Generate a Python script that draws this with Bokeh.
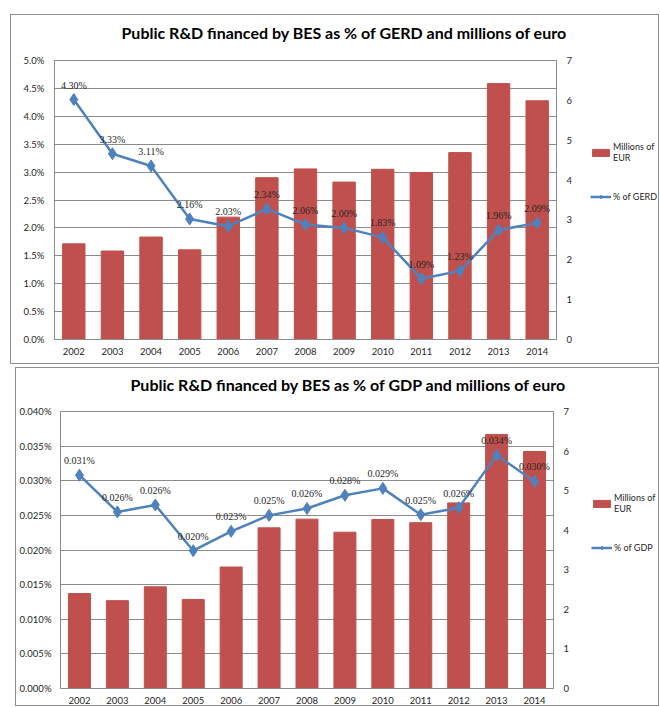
from bokeh.plotting import figure
from bokeh.models import (FactorRange, Range1d, LinearAxis, FixedTicker, PrintfTickFormatter,
                          ColumnDataSource, LabelSet, Legend, LegendItem, Spacer, Title)
from bokeh.layouts import column, row
from bokeh.embed import file_html
from bokeh.resources import INLINE

years = ["2002", "2003", "2004", "2005", "2006", "2007", "2008",
         "2009", "2010", "2011", "2012", "2013", "2014"]
millions_eur = [2.40, 2.22, 2.57, 2.25, 3.07, 4.06, 4.28, 3.95, 4.27, 4.19, 4.69, 6.42, 5.99]
pct_gerd = [4.30, 3.33, 3.11, 2.16, 2.03, 2.34, 2.06, 2.00, 1.83, 1.09, 1.23, 1.96, 2.09]
pct_gerd_labels = ["4.30%", "3.33%", "3.11%", "2.16%", "2.03%", "2.34%", "2.06%",
                   "2.00%", "1.83%", "1.09%", "1.23%", "1.96%", "2.09%"]
pct_gdp = [0.0308, 0.0255, 0.0265, 0.0199, 0.0227, 0.0250, 0.0260,
           0.0279, 0.0289, 0.0251, 0.0261, 0.0337, 0.0299]
pct_gdp_labels = ["0.031%", "0.026%", "0.026%", "0.020%", "0.023%", "0.025%", "0.026%",
                  "0.028%", "0.029%", "0.025%", "0.026%", "0.034%", "0.030%"]
gerd_ticks = [0.0, 0.5, 1.0, 1.5, 2.0, 2.5, 3.0, 3.5, 4.0, 4.5, 5.0]
gdp_ticks = [0.0, 0.005, 0.010, 0.015, 0.020, 0.025, 0.030, 0.035, 0.040]
eur_ticks = [0, 1, 2, 3, 4, 5, 6, 7]

BAR = "#C0504D"
LINE = "#4F81BD"
GRID = "#8c8c8c"
BOX = "1px solid #8f8f8f"
TXT = "#262626"
FONT = "Lato"


def add_series(fig, src, visible=True):
    bars = fig.vbar(x="year", top="eur", width=0.58, source=src, y_range_name="eur",
                    fill_color=BAR, line_color=BAR, visible=visible)
    ln = fig.line(x="year", y="pct", source=src, line_color=LINE, line_width=2.5,
                  visible=visible)
    mk = fig.scatter(x="year", y="pct", source=src, marker="diamond", size=12,
                     fill_color=LINE, line_color=LINE, visible=visible)
    return bars, ln, mk


def make_chart(title, pct, labels, left_ticks, fmt, pct_name,
               main_w, leg_w, h, borders, left_standoff, title_offset, title_gap,
               legend_loc):
    lb, rb, tb, bb = borders
    src = ColumnDataSource(dict(year=years, eur=millions_eur, pct=pct, lab=labels))
    xr = FactorRange(factors=years)
    yr = Range1d(left_ticks[0], left_ticks[-1])
    er = Range1d(eur_ticks[0], eur_ticks[-1])

    p = figure(x_range=xr, y_range=yr, width=main_w, height=h,
               output_backend="svg", toolbar_location=None,
               min_border_left=lb, min_border_right=rb, min_border_top=tb, min_border_bottom=bb,
               styles={"border-top": BOX, "border-bottom": BOX, "border-left": BOX})
    p.extra_y_ranges = {"eur": er}

    p.title.text = title
    p.title.align = "left"
    p.title.offset = title_offset
    p.title.text_font = FONT
    p.title.text_font_style = "bold"
    p.title.text_font_size = "16px"
    p.title.text_color = "black"
    p.title.standoff = 4
    # empty gap between the title and the plot area
    p.add_layout(Title(text=" ", text_font_size="2px", standoff=title_gap), "above")

    p.outline_line_color = GRID
    p.xgrid.grid_line_color = None
    p.ygrid.grid_line_color = GRID
    p.ygrid.ticker = FixedTicker(ticks=left_ticks)

    add_series(p, src)

    p.add_layout(LabelSet(x="year", y="pct", text="lab", source=src, y_offset=9,
                          text_align="center", text_baseline="bottom",
                          text_font=FONT, text_font_size="10px", text_color=TXT))

    right = LinearAxis(y_range_name="eur", ticker=FixedTicker(ticks=eur_ticks))
    p.add_layout(right, "right")

    left = p.yaxis[0]
    left.ticker = FixedTicker(ticks=left_ticks)
    left.formatter = PrintfTickFormatter(format=fmt)

    for ax in [left, right, p.xaxis[0]]:
        ax.axis_line_color = GRID
        ax.major_tick_line_color = None
        ax.minor_tick_line_color = None
        ax.major_tick_out = 0
        ax.major_tick_in = 0
        ax.major_label_text_font = FONT
        ax.major_label_text_font_size = "9.5px"
        ax.major_label_text_color = TXT
    left.major_label_standoff = left_standoff
    right.major_label_standoff = 10
    p.xaxis[0].major_label_standoff = 8

    # legend panel (same series, legend only)
    lf = figure(x_range=xr, y_range=Range1d(left_ticks[0], left_ticks[-1]),
                width=leg_w, height=h, output_backend="svg", toolbar_location=None,
                min_border=0, x_axis_type=None, y_axis_type=None,
                styles={"border-top": BOX, "border-bottom": BOX, "border-right": BOX})
    lf.extra_y_ranges = {"eur": Range1d(eur_ticks[0], eur_ticks[-1])}
    lf.outline_line_color = None
    bars, ln, mk = add_series(lf, src, visible=False)

    legend = Legend(items=[LegendItem(label="Millions of\nEUR", renderers=[bars]),
                           LegendItem(label=pct_name, renderers=[ln, mk])],
                    location=legend_loc, orientation="vertical")
    legend.border_line_color = None
    legend.background_fill_alpha = 0
    legend.padding = 0
    legend.margin = 0
    legend.spacing = 28
    legend.glyph_width = 21
    legend.glyph_height = 9
    legend.label_standoff = 2
    legend.label_text_font = FONT
    legend.label_text_font_size = "9px"
    legend.label_text_line_height = 1.5
    legend.label_text_color = TXT
    legend.click_policy = "none"
    lf.add_layout(legend)
    return p, lf


p1, l1 = make_chart("Public R&D financed by BES as % of GERD and millions of euro",
                    pct_gerd, pct_gerd_labels, gerd_ticks, "%.1f%%", "% of GERD",
                    564, 85, 350, (43, 18, 45, 26), 10, 67, 13, (16, 137))

p2, l2 = make_chart("Public R&D financed by BES as % of GDP and millions of euro",
                    pct_gdp, pct_gdp_labels, gdp_ticks, "%.3f%%", "% of GDP",
                    556, 88, 339, (42, 18, 43, 19), 9, 70, 12, (20, 135))

layout = column(Spacer(height=14),
                row(Spacer(width=10), p1, l1),
                Spacer(height=3),
                row(Spacer(width=15), p2, l2))
open("out.html", "w").write(file_html(layout, INLINE))
